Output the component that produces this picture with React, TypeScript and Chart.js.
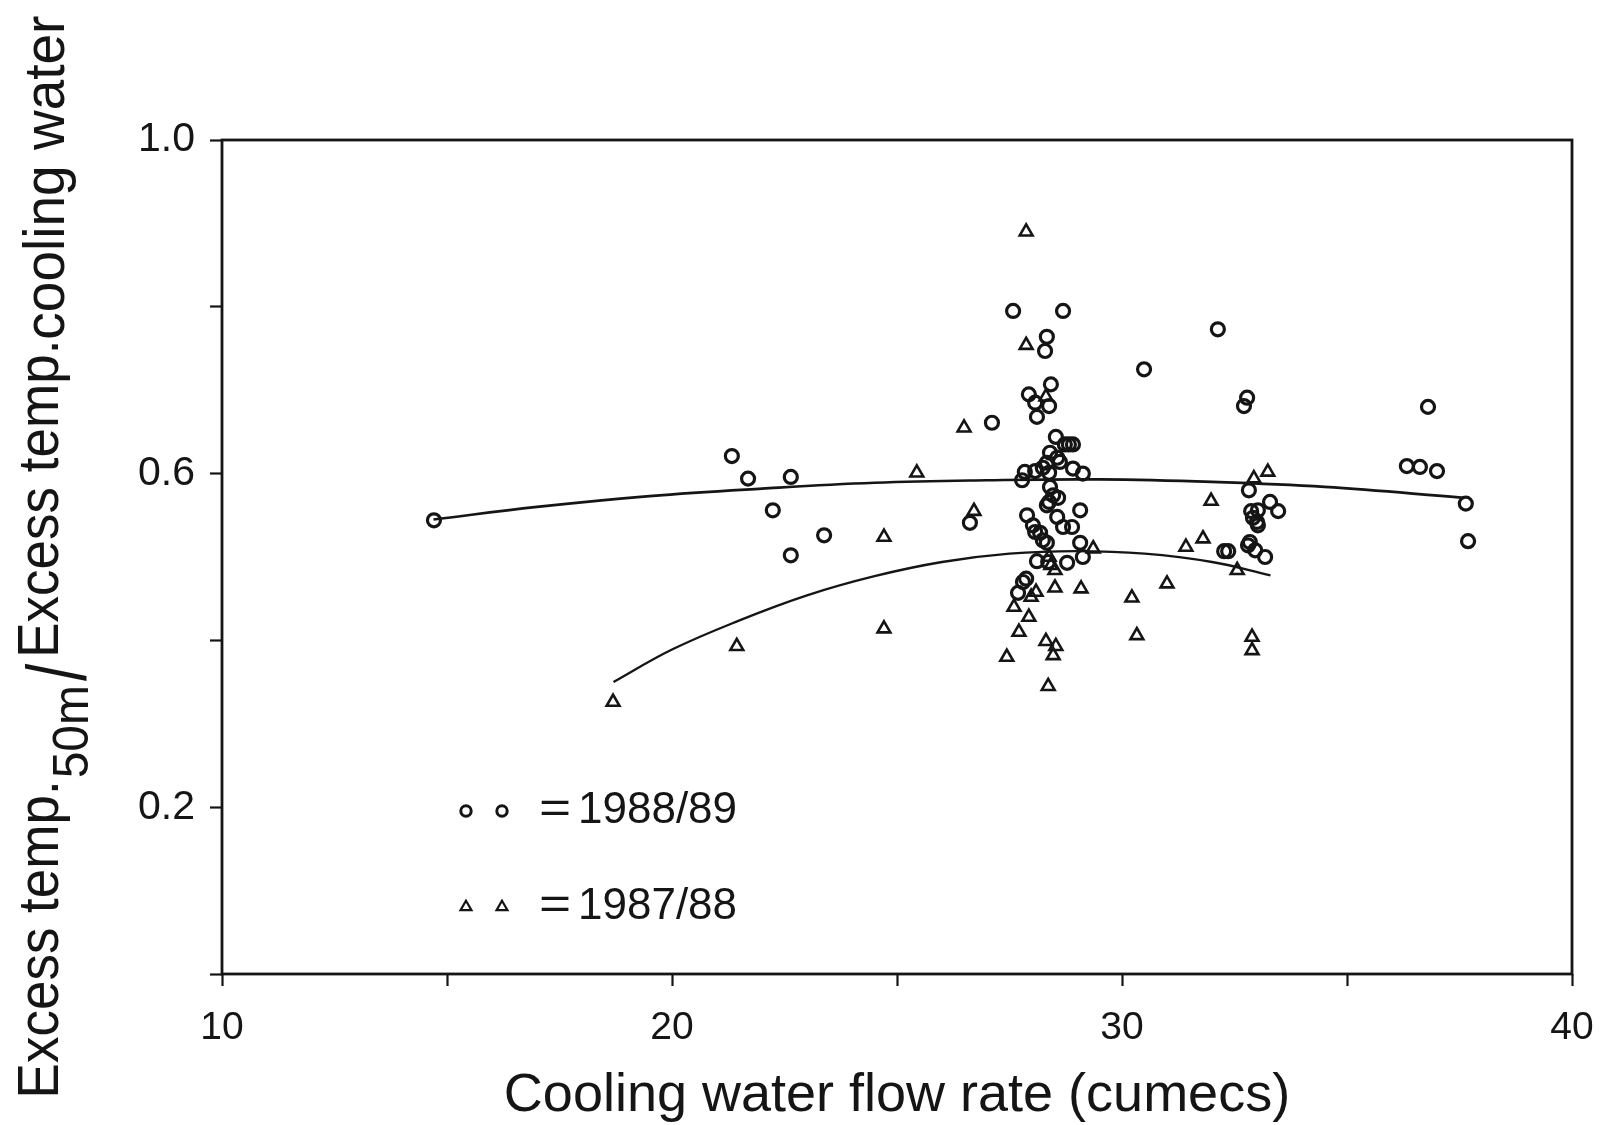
import { useEffect, useRef } from "react";
import { Chart, registerables } from "chart.js";

Chart.register(...registerables);

// 1988/89 season observations (flow rate in cumecs, temperature ratio)
const obs8889X = [
  14.71, 21.33, 21.69, 22.64, 22.24, 23.38, 22.64, 26.62, 27.11, 27.58,
  28.69, 28.33, 28.29, 28.42, 27.93, 28.07, 28.38, 28.11, 30.49, 32.13,
  32.78, 32.71, 36.8, 36.33, 36.62, 37.0, 37.64, 37.69, 28.53, 28.73,
  28.82, 28.91, 28.4, 28.56, 28.62, 28.33, 28.24, 28.07, 27.84, 27.78,
  28.91, 29.13, 28.38, 28.4, 28.47, 28.58, 28.38, 28.33, 29.07, 27.89,
  28.56, 28.02, 28.69, 28.89, 28.18, 28.07, 28.24, 28.33, 29.07, 29.13,
  28.36, 28.78, 27.87, 27.8, 27.69, 32.82, 33.29, 33.47, 32.87, 33.02,
  32.91, 33.0, 33.02, 32.36, 32.27, 32.84, 32.96, 33.18, 32.8, 28.11,
];
const obs8889Y = [
  0.544, 0.621, 0.594, 0.596, 0.556, 0.526, 0.502, 0.541, 0.661, 0.795,
  0.795, 0.764, 0.747, 0.707, 0.695, 0.685, 0.681, 0.668, 0.725, 0.773,
  0.691, 0.681, 0.68, 0.609, 0.608, 0.603, 0.564, 0.519, 0.644, 0.635,
  0.635, 0.635, 0.625, 0.619, 0.614, 0.613, 0.607, 0.603, 0.602, 0.592,
  0.606, 0.6, 0.601, 0.584, 0.574, 0.571, 0.566, 0.562, 0.556, 0.55,
  0.548, 0.538, 0.536, 0.536, 0.529, 0.53, 0.52, 0.517, 0.517, 0.5,
  0.494, 0.493, 0.474, 0.47, 0.457, 0.58, 0.566, 0.555, 0.555, 0.556,
  0.547, 0.542, 0.538, 0.507, 0.507, 0.518, 0.508, 0.5, 0.514, 0.495,
];

// 1987/88 season observations
const obs8788X = [
  27.87, 27.87, 28.31, 26.49, 25.44, 26.71, 24.71, 24.71, 21.44, 18.69,
  29.36, 28.38, 28.42, 28.51, 28.09, 27.98, 28.51, 29.09, 27.6, 27.93,
  27.71, 28.31, 28.53, 28.47, 27.44, 28.36, 30.22, 30.33, 31.0, 31.42,
  31.8, 31.98, 32.56, 32.93, 33.24, 32.89, 32.89,
];
const obs8788Y = [
  0.89, 0.754, 0.692, 0.655, 0.601, 0.555, 0.524, 0.414, 0.393, 0.326,
  0.51, 0.5, 0.49, 0.484, 0.458, 0.452, 0.463, 0.462, 0.44, 0.428,
  0.41, 0.399, 0.393, 0.382, 0.38, 0.345, 0.451, 0.406, 0.468, 0.512,
  0.522, 0.567, 0.484, 0.594, 0.602, 0.404, 0.388,
];

// Fitted trend curves
const fit8889X = [14.7, 17, 19.5, 22, 24.5, 27, 29.5, 32, 34.5, 37.6];
const fit8889Y = [0.545, 0.56, 0.573, 0.582, 0.589, 0.592, 0.593, 0.59, 0.584, 0.571];
const fit8788X = [18.7, 20, 21.5, 23, 24.5, 26, 27.5, 29, 30.5, 32, 33.3];
const fit8788Y = [0.35, 0.389, 0.424, 0.454, 0.477, 0.494, 0.504, 0.507, 0.504, 0.494, 0.478];

const xTickLabels = [10, 20, 30, 40];
const yTickLabels = [0.2, 0.6, 1.0];
const seasonLabels = ["1988/89", "1987/88"];
const xTitle = "Cooling water flow rate (cumecs)";
const yTitleParts = ["Excess temp.", "50m", "/", "Excess temp.", "cooling water"];

const INK = "#151515";
const FONT = '"Liberation Sans", Arial, sans-serif';

const pts = (xs: number[], ys: number[]) => xs.map((x, i) => ({ x, y: ys[i] }));

const paperPlugin = {
  id: "paper",
  beforeDraw(chart: any) {
    const { ctx, width, height } = chart;
    ctx.save();
    ctx.fillStyle = "#ffffff";
    ctx.fillRect(0, 0, width, height);
    ctx.restore();
  },
  afterDraw(chart: any) {
    const { ctx, chartArea: a } = chart;
    ctx.save();
    // plot frame
    ctx.strokeStyle = INK;
    ctx.lineWidth = 2.8;
    ctx.strokeRect(a.left, a.top, a.right - a.left, a.bottom - a.top);

    ctx.fillStyle = INK;
    // x-axis title
    ctx.font = `54px ${FONT}`;
    ctx.textAlign = "center";
    ctx.textBaseline = "alphabetic";
    ctx.fillText(xTitle, (a.left + a.right) / 2, a.bottom + 137);

    // y-axis title with subscripts, rotated to read bottom-to-top
    const pieces = [
      { t: yTitleParts[0], f: `53px ${FONT}`, b: 58, gap: 2, s: 1.1 },
      { t: yTitleParts[1], f: `48px ${FONT}`, b: 88, gap: 4, s: 1.05 },
      { t: yTitleParts[2], f: `62px ${FONT}`, b: 86, gap: 6, s: 1.35 },
      { t: yTitleParts[3], f: `53px ${FONT}`, b: 58, gap: 0, s: 1.1 },
      { t: yTitleParts[4], f: `55px ${FONT}`, b: 64, gap: 0, s: 1.05 },
    ];
    let total = 0;
    const widths = pieces.map((p) => {
      ctx.font = p.f;
      const w = ctx.measureText(p.t).width + p.gap;
      total += w;
      return w;
    });
    const cy = (a.top + a.bottom) / 2;
    ctx.rotate(-Math.PI / 2);
    ctx.textAlign = "left";
    let pos = -(cy + total / 2);
    pieces.forEach((p, i) => {
      ctx.save();
      ctx.font = p.f;
      ctx.translate(pos, p.b);
      ctx.scale(1, p.s);
      ctx.fillText(p.t, 0, 0);
      ctx.restore();
      pos += widths[i];
    });
    ctx.setTransform(1, 0, 0, 1, 0, 0);

    // legend
    const rows = [
      { label: seasonLabels[0], style: "circle", y: a.bottom - 163 },
      { label: seasonLabels[1], style: "triangle", y: a.bottom - 67 },
    ];
    rows.forEach((r) => {
      [a.left + 244, a.left + 280].forEach((mx) => {
        ctx.beginPath();
        if (r.style === "circle") {
          ctx.lineWidth = 3;
          ctx.arc(mx, r.y, 5.2, 0, Math.PI * 2);
        } else {
          ctx.lineWidth = 2.2;
          const rad = 6.3;
          for (let k = 0; k < 3; k++) {
            const ang = (k * 2 * Math.PI) / 3;
            const px = mx + Math.sin(ang) * rad;
            const py = r.y - Math.cos(ang) * rad;
            if (k === 0) ctx.moveTo(px, py);
            else ctx.lineTo(px, py);
          }
          ctx.closePath();
        }
        ctx.stroke();
      });
      ctx.font = `44px ${FONT}`;
      ctx.textAlign = "left";
      ctx.textBaseline = "middle";
      ctx.save();
      ctx.translate(a.left + 317, r.y);
      ctx.scale(1.25, 1);
      ctx.fillText("=", 0, 0);
      ctx.restore();
      ctx.fillText(r.label, a.left + 356, r.y);
    });
    ctx.restore();
  },
};

export default function App() {
  const canvasRef = useRef<HTMLCanvasElement | null>(null);

  useEffect(() => {
    const canvas = canvasRef.current;
    if (!canvas) return;
    const chart = new Chart(canvas, {
      type: "scatter",
      data: {
        datasets: [
          {
            label: "fit " + seasonLabels[0],
            type: "line",
            data: pts(fit8889X, fit8889Y),
            borderColor: INK,
            borderWidth: 2.7,
            pointRadius: 0,
            tension: 0.4,
            fill: false,
          },
          {
            label: "fit " + seasonLabels[1],
            type: "line",
            data: pts(fit8788X, fit8788Y),
            borderColor: INK,
            borderWidth: 2.3,
            pointRadius: 0,
            tension: 0.4,
            fill: false,
          },
          {
            label: seasonLabels[0],
            data: pts(obs8889X, obs8889Y),
            pointStyle: "circle",
            pointRadius: 6.5,
            borderWidth: 3.2,
            borderColor: INK,
            backgroundColor: "rgba(0,0,0,0)",
          },
          {
            label: seasonLabels[1],
            data: pts(obs8788X, obs8788Y),
            pointStyle: "triangle",
            pointRadius: 7.4,
            borderWidth: 2.6,
            borderColor: INK,
            backgroundColor: "rgba(0,0,0,0)",
          },
        ],
      },
      options: {
        responsive: false,
        maintainAspectRatio: false,
        animation: false,
        layout: { padding: { left: 0, top: 140, right: 34, bottom: 0 } },
        plugins: {
          legend: { display: false },
          title: { display: false },
          tooltip: { enabled: false },
        },
        scales: {
          x: {
            type: "linear",
            min: 10,
            max: 40,
            border: { display: false },
            grid: {
              drawOnChartArea: false,
              drawTicks: true,
              tickLength: 12,
              tickWidth: 2.2,
              tickColor: INK,
            },
            ticks: {
              stepSize: 5,
              padding: 19,
              color: INK,
              font: { family: FONT, size: 39 },
              maxRotation: 0,
              autoSkip: false,
              callback: (v: any) => (xTickLabels.includes(Number(v)) ? String(v) : ""),
            },
            afterFit: (s: any) => {
              s.height = 151;
              s.paddingLeft = 0;
              s.paddingRight = 0;
            },
          },
          y: {
            type: "linear",
            min: 0,
            max: 1,
            border: { display: false },
            grid: {
              drawOnChartArea: false,
              drawTicks: true,
              tickLength: 12,
              tickWidth: 2.2,
              tickColor: INK,
            },
            ticks: {
              stepSize: 0.2,
              padding: 15,
              color: INK,
              font: { family: FONT, size: 41 },
              autoSkip: false,
              callback: (v: any) =>
                yTickLabels.some((t) => Math.abs(t - Number(v)) < 1e-6) ? Number(v).toFixed(1) : "",
            },
            afterFit: (s: any) => {
              s.width = 222;
              s.paddingTop = 0;
              s.paddingBottom = 0;
            },
          },
        },
      },
      plugins: [paperPlugin],
    });
    return () => chart.destroy();
  }, []);

  return (
    <div style={{ position: "absolute", left: 0, top: 0, width: 1606, height: 1125, background: "#fff" }}>
      <canvas ref={canvasRef} width={1606} height={1125} style={{ display: "block" }} />
    </div>
  );
}
